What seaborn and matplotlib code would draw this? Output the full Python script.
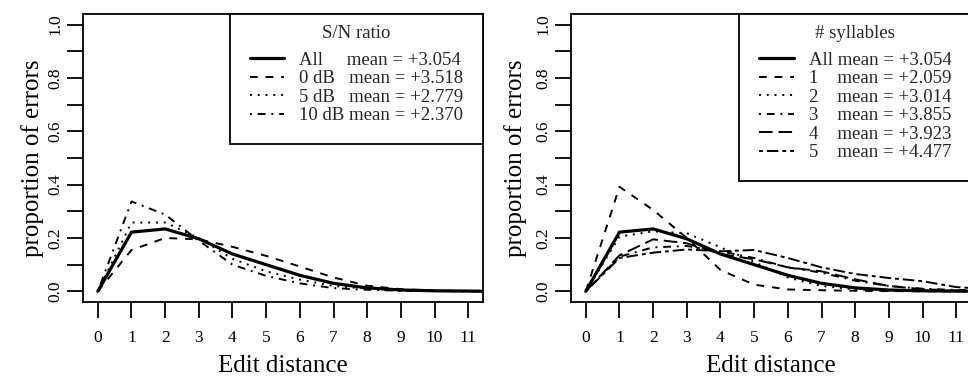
import matplotlib
matplotlib.use("Agg")
import matplotlib.pyplot as plt
import seaborn as sns
import pandas as pd

# ---------------- data ----------------
edit_distance = list(range(13))
x_ticks = list(range(12))

all_errors = [0, 0.222, 0.234, 0.197, 0.140, 0.100, 0.060, 0.030, 0.013, 0.005, 0.002, 0.001, 0.0]

snr_0db = [0, 0.155, 0.200, 0.195, 0.167, 0.133, 0.093, 0.052, 0.021, 0.008, 0.003, 0.001, 0.0]
snr_5db = [0, 0.258, 0.258, 0.200, 0.122, 0.075, 0.044, 0.020, 0.010, 0.003, 0.001, 0.0, 0.0]
snr_10db = [0, 0.337, 0.288, 0.190, 0.100, 0.058, 0.030, 0.012, 0.006, 0.002, 0.001, 0.0, 0.0]

syl_1 = [0, 0.392, 0.305, 0.200, 0.080, 0.025, 0.007, 0.004, 0.002, 0.001, 0.0, 0.0, 0.0]
syl_2 = [0, 0.205, 0.225, 0.218, 0.165, 0.110, 0.052, 0.020, 0.007, 0.002, 0.001, 0.0, 0.0]
syl_3 = [0, 0.130, 0.165, 0.170, 0.150, 0.125, 0.090, 0.070, 0.040, 0.020, 0.010, 0.005, 0.002]
syl_4 = [0, 0.135, 0.195, 0.180, 0.140, 0.120, 0.090, 0.075, 0.045, 0.020, 0.008, 0.003, 0.001]
syl_5 = [0, 0.125, 0.145, 0.157, 0.150, 0.155, 0.125, 0.090, 0.065, 0.050, 0.038, 0.016, 0.008]

snr_names = ["All", "0 dB", "5 dB", "10 dB"]
snr_means = ["+3.054", "+3.518", "+2.779", "+2.370"]
syl_names = ["All", "1", "2", "3", "4", "5"]
syl_means = ["+3.054", "+2.059", "+3.014", "+3.855", "+3.923", "+4.477"]

# ---------------- style ----------------
sns.set_style("white")
plt.rcParams["font.family"] = ["Liberation Serif", "DejaVu Serif"]
plt.rcParams["axes.linewidth"] = 1.3
plt.rcParams["lines.scale_dashes"] = True

solid = "-"
dashed = (0, (4, 4))
dotted = (0, (1, 3))
dotdash = (0, (1, 3, 4, 3))
longdash = (0, (7, 3))
twodash = (0, (2, 2, 6, 2))

W, H = 968, 376
fig = plt.figure(figsize=(W / 100, H / 100), dpi=100)

def make_ax(left_px):
    l, r, t, b = left_px, left_px + 400, 14, 302
    return fig.add_axes([l / W, (H - b) / H, (r - l) / W, (b - t) / H])

axL = make_ax(83)
axR = make_ax(571)

def style_axis(ax, ylab_x):
    ax.set_xlim(-0.44, 11.44)
    ax.set_ylim(-0.04, 1.04)
    ax.set_xticks(x_ticks)
    ax.set_xticklabels([str(v) for v in x_ticks])
    yt = [i / 10 for i in range(11)]
    ax.set_yticks(yt)
    ax.set_yticklabels([f"{v:.1f}" if i % 2 == 0 else "" for i, v in enumerate(yt)])
    ax.tick_params(axis="both", direction="out", length=11.5, width=1.3,
                   color="black", labelsize=12.5, labelcolor="black")
    ax.tick_params(axis="x", pad=9, bottom=True)
    ax.tick_params(axis="y", pad=2.5, left=True)
    for lab in ax.get_yticklabels():
        lab.set_rotation(90)
        lab.set_va("center")
    for s in ax.spines.values():
        s.set_visible(True)
        s.set_color("black")
        s.set_linewidth(1.3)
    ax.set_xlabel("Edit distance", fontsize=18, color="black")
    ax.set_ylabel("proportion of errors", fontsize=18, color="black")
    ax.xaxis.set_label_coords(0.5, -0.183)
    ax.yaxis.set_label_coords(ylab_x, 0.5)
    ax.grid(False)

def draw(ax, series, names, means, styles, title, spacer):
    for vals, name, mean, ls in zip(series, names, means, styles):
        lw = 2.3 if name == "All" else 1.4
        label = name + spacer.get(name, " ") + "mean = " + mean
        sns.lineplot(x=edit_distance, y=vals, ax=ax, color="black", lw=lw,
                     linestyle=ls, label=label, legend=False)
    leg = ax.legend(loc="upper right", bbox_to_anchor=(1, 1), borderaxespad=0,
                    title=title, fontsize=13.5, title_fontsize=13.5,
                    fancybox=False, frameon=True, framealpha=1,
                    edgecolor="black", handlelength=1.85, handletextpad=0.8,
                    borderpad=0.6, labelspacing=0.07)
    leg.get_frame().set_linewidth(1.3)
    # extra padding around the entries (left/right/top/bottom), R-like layout
    leg._legend_handle_box.pad = 6.0

draw(axL, [all_errors, snr_0db, snr_5db, snr_10db], snr_names, snr_means,
     [solid, dashed, dotted, dotdash], "S/N ratio",
     {"All": "     ", "0 dB": "   ", "5 dB": "   ", "10 dB": " "})
draw(axR, [all_errors, syl_1, syl_2, syl_3, syl_4, syl_5], syl_names, syl_means,
     [solid, dashed, dotted, dotdash, longdash, twodash], "# syllables",
     {"All": " ", "1": "    ", "2": "    ", "3": "    ", "4": "    ", "5": "    "})

style_axis(axL, -0.0975)
style_axis(axR, -0.11)

fig.savefig("out.png", dpi=100)
